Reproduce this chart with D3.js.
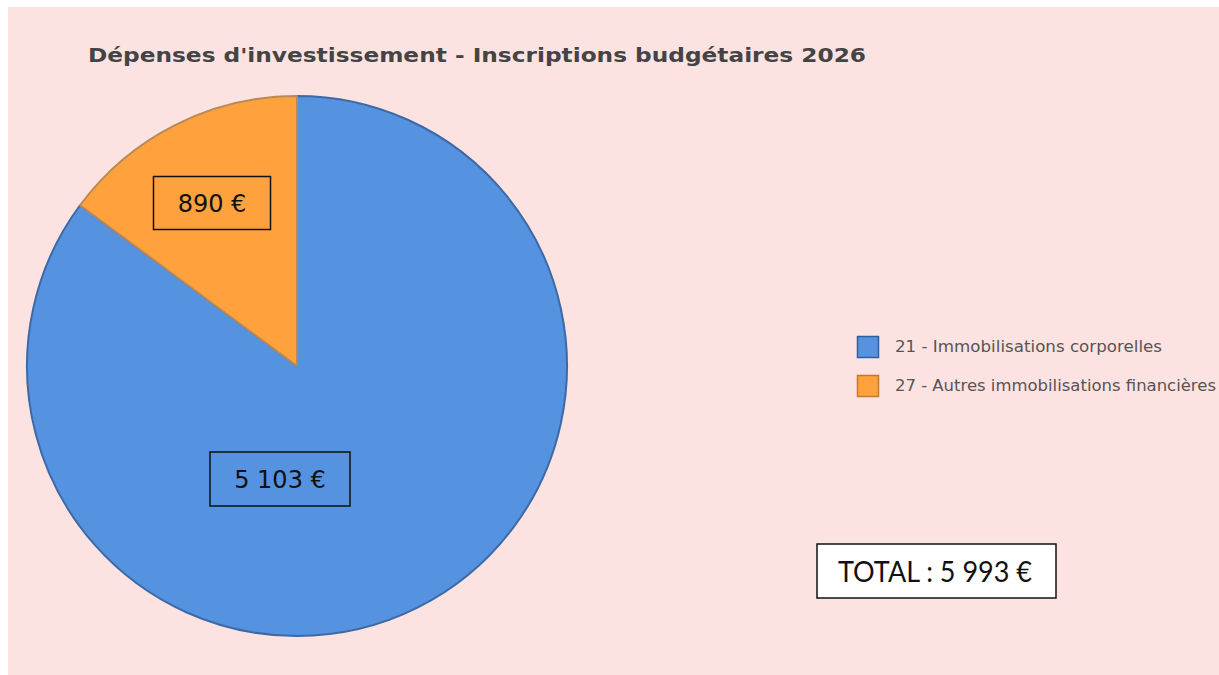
<!DOCTYPE html>
<html><head><meta charset="utf-8">
<script src="https://cdn.jsdelivr.net/npm/d3@7"></script>
<style>html,body{margin:0;padding:0;background:#fff;}svg{display:block;}</style>
</head><body>
<svg id="c" width="1219" height="675"></svg>
<script>
const categories = ["21 - Immobilisations corporelles", "27 - Autres immobilisations financières"];
const values = [5103, 890];
const valueLabels = ["5 103 €", "890 €"];
const totalLabel = "TOTAL : 5 993 €";
const title = "Dépenses d'investissement - Inscriptions budgétaires 2026";
const fills = ["#5592df", "#ffa23d"];
const strokes = ["#3d6aa6", "#b98a55"];
const legendStrokes = ["#2f5f9f", "#c27a2e"];

const svg = d3.select("#c");
svg.append("rect").attr("x", 8).attr("y", 7).attr("width", 1211).attr("height", 668).attr("fill", "#fde2e2");

svg.append("text").attr("x", 88).attr("y", 62)
  .attr("font-family", "DejaVu Sans").attr("font-weight", "bold").attr("font-size", 20)
  .attr("fill", "#444").attr("textLength", 778).attr("lengthAdjust", "spacingAndGlyphs").text(title);

const cx = 297, cy = 366, r = 270;
const pie = d3.pie().sort(null).value(d => d)(values);
const arc = d3.arc().innerRadius(0).outerRadius(r);
const g = svg.append("g").attr("transform", `translate(${cx},${cy})`);
g.selectAll("path").data(pie).join("path")
  .attr("d", arc).attr("fill", (d, i) => fills[i])
  .attr("stroke", (d, i) => strokes[i]).attr("stroke-width", 2).attr("stroke-linejoin", "round");

// label boxes (placed like the reference annotations)
const labelPos = [[-17, 113], [-85, -163]];
const boxSize = [[140, 54], [117, 53]];
pie.forEach((d, i) => {
  const [lx, ly] = labelPos[i];
  const [bw, bh] = boxSize[i];
  g.append("rect").attr("x", lx - bw / 2).attr("y", ly - bh / 2).attr("width", bw).attr("height", bh)
    .attr("fill", "none").attr("stroke", "#111").attr("stroke-width", 1.5);
  g.append("text").attr("x", lx).attr("y", ly).attr("dy", "0.36em").attr("text-anchor", "middle")
    .attr("font-family", "DejaVu Sans").attr("font-size", 24).attr("fill", "#111").text(valueLabels[i]);
});

// legend
const legendWidths = [267, 321];
const leg = svg.append("g").attr("transform", "translate(857,336)");
categories.forEach((c, i) => {
  const row = leg.append("g").attr("transform", `translate(0,${i * 39})`);
  row.append("rect").attr("x", 0.5).attr("y", 0.5).attr("width", 21).attr("height", 21)
    .attr("fill", fills[i]).attr("stroke", legendStrokes[i]).attr("stroke-width", 1.5);
  row.append("text").attr("x", 38).attr("y", 11).attr("dy", "0.35em")
    .attr("font-family", "DejaVu Sans").attr("font-size", 15).attr("fill", "#555")
    .attr("textLength", legendWidths[i]).attr("lengthAdjust", "spacingAndGlyphs").text(c);
});

// total box
svg.append("rect").attr("x", 817).attr("y", 544).attr("width", 239).attr("height", 54)
  .attr("fill", "#fff").attr("stroke", "#111").attr("stroke-width", 1.5);
svg.append("text").attr("x", 838).attr("y", 572).attr("dy", "0.36em")
  .attr("font-family", "Lato").attr("font-size", 28).attr("fill", "#111")
  .attr("textLength", 194).attr("lengthAdjust", "spacingAndGlyphs").text(totalLabel);
</script>
</body></html>
